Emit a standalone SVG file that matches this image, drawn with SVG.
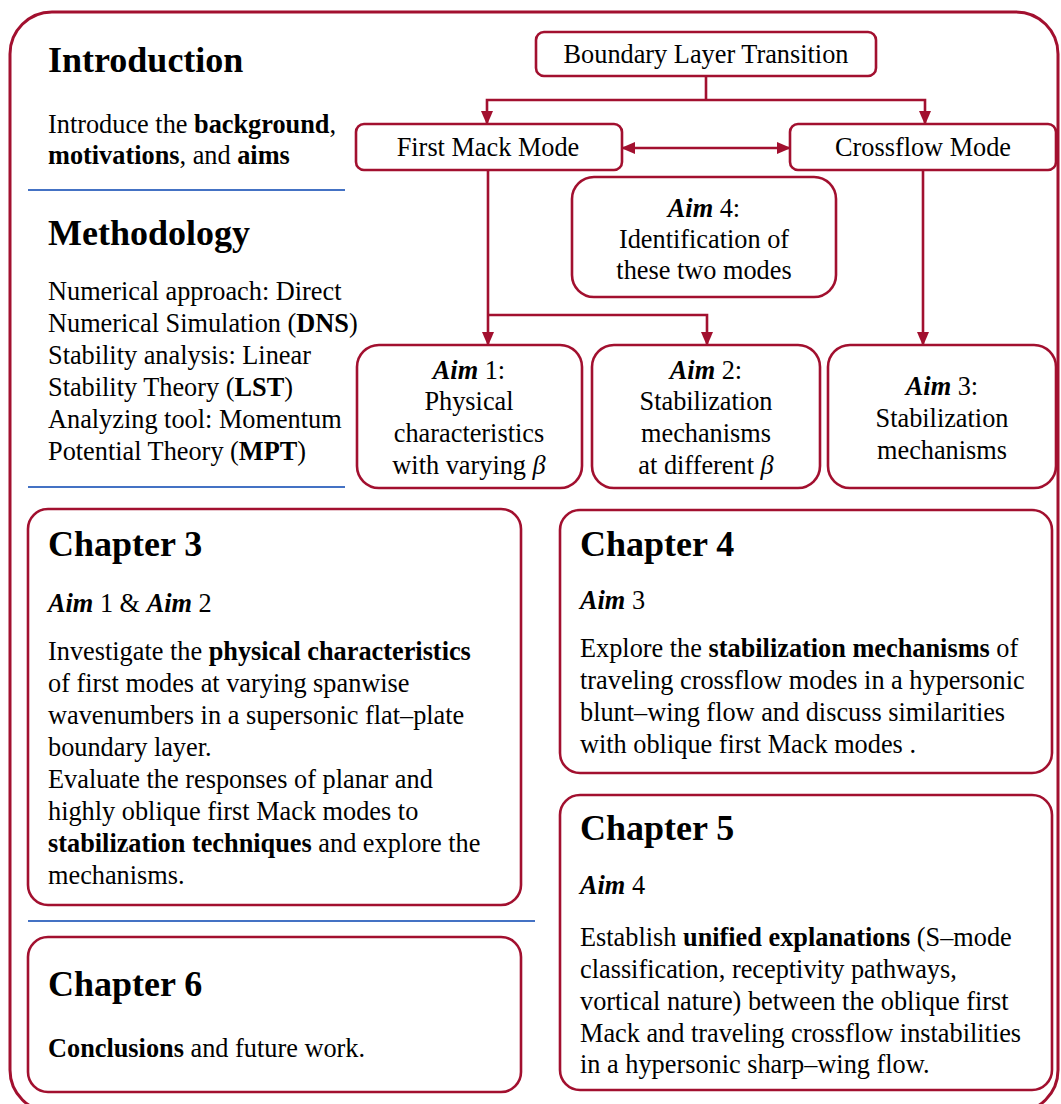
<svg xmlns="http://www.w3.org/2000/svg" width="1061" height="1104" viewBox="0 0 1061 1104">
<style>
.box{fill:#fff;stroke:#A2102F;stroke-width:2.6}
.frame{fill:none;stroke:#A2102F;stroke-width:3}
.conn{fill:none;stroke:#A2102F;stroke-width:2.6}
.sep{stroke:#4472C4;stroke-width:2}
text{font-family:"Liberation Serif","Times New Roman",serif;fill:#000}
.h{font-size:36px;font-weight:bold}
.t{font-size:26.3px}
.c{text-anchor:middle}
.b{font-weight:bold}
.i{font-style:italic}
.bi{font-weight:bold;font-style:italic}
</style>
<defs>
<marker id="arr" viewBox="0 0 14 12" refX="13" refY="6" markerWidth="14" markerHeight="12" markerUnits="userSpaceOnUse" orient="auto-start-reverse">
<path d="M0 0 L14 6 L0 12 z" fill="#A2102F"/>
</marker>
</defs>
<rect width="1061" height="1104" fill="#fff"/>
<rect class="frame" x="10" y="12" width="1048" height="1100" rx="42"/>

<g id="intro">
<text class="h" x="48" y="72">Introduction</text>
<text class="t" x="48" y="133">Introduce the <tspan class="b">background</tspan>,</text>
<text class="t" x="48" y="164"><tspan class="b">motivations</tspan>, and <tspan class="b">aims</tspan></text>
</g>
<line class="sep" x1="28" y1="190" x2="345" y2="190"/>
<g id="methodology">
<text class="h" x="48" y="245">Methodology</text>
<text class="t" x="48" y="300">Numerical approach: Direct</text>
<text class="t" x="48" y="332">Numerical Simulation (<tspan class="b">DNS</tspan>)</text>
<text class="t" x="48" y="364">Stability analysis: Linear</text>
<text class="t" x="48" y="396">Stability Theory (<tspan class="b">LST</tspan>)</text>
<text class="t" x="48" y="428">Analyzing tool: Momentum</text>
<text class="t" x="48" y="460">Potential Theory (<tspan class="b">MPT</tspan>)</text>
</g>
<line class="sep" x1="28" y1="487" x2="345" y2="487"/>

<g id="connectors">
<line class="conn" x1="706" y1="76" x2="706" y2="100"/>
<polyline class="conn" points="487,124 487,100 925,100 925,124" marker-start="url(#arr)" marker-end="url(#arr)"/>
<line class="conn" x1="622" y1="148" x2="790" y2="148" marker-start="url(#arr)" marker-end="url(#arr)"/>
<line class="conn" x1="488" y1="170" x2="488" y2="345" marker-end="url(#arr)"/>
<polyline class="conn" points="488,315 707,315 707,345" marker-end="url(#arr)"/>
<line class="conn" x1="923" y1="170" x2="923" y2="345" marker-end="url(#arr)"/>
</g>

<g id="blt">
<rect class="box" x="536" y="32" width="340" height="44" rx="8"/>
<text class="t c" x="706" y="63">Boundary Layer Transition</text>
</g>
<g id="first-mack">
<rect class="box" x="356" y="124" width="266" height="46" rx="8"/>
<text class="t c" x="488" y="156">First Mack Mode</text>
</g>
<g id="crossflow">
<rect class="box" x="790" y="124" width="266" height="46" rx="8"/>
<text class="t c" x="923" y="156">Crossflow Mode</text>
</g>
<g id="aim4">
<rect class="box" x="572" y="177" width="264" height="120" rx="22"/>
<text class="t c" x="704" y="217"><tspan class="bi">Aim</tspan> 4:</text>
<text class="t c" x="704" y="248">Identification of</text>
<text class="t c" x="704" y="279">these two modes</text>
</g>
<g id="aim1">
<rect class="box" x="357" y="345" width="225" height="143" rx="22"/>
<text class="t c" x="469" y="379"><tspan class="bi">Aim</tspan> 1:</text>
<text class="t c" x="469" y="410">Physical</text>
<text class="t c" x="469" y="442">characteristics</text>
<text class="t c" x="469" y="474">with varying <tspan class="i">β</tspan></text>
</g>
<g id="aim2">
<rect class="box" x="592" y="345" width="228" height="143" rx="22"/>
<text class="t c" x="706" y="379"><tspan class="bi">Aim</tspan> 2:</text>
<text class="t c" x="706" y="410">Stabilization</text>
<text class="t c" x="706" y="442">mechanisms</text>
<text class="t c" x="706" y="474">at different <tspan class="i">β</tspan></text>
</g>
<g id="aim3">
<rect class="box" x="828" y="345" width="228" height="143" rx="22"/>
<text class="t c" x="942" y="395"><tspan class="bi">Aim</tspan> 3:</text>
<text class="t c" x="942" y="427">Stabilization</text>
<text class="t c" x="942" y="459">mechanisms</text>
</g>

<g id="chapter3">
<rect class="box" x="28" y="509" width="493" height="396" rx="20"/>
<text class="h" x="48" y="556">Chapter 3</text>
<text class="t" x="48" y="612"><tspan class="bi">Aim</tspan> 1 &amp; <tspan class="bi">Aim</tspan> 2</text>
<text class="t" x="48" y="660">Investigate the <tspan class="b">physical characteristics</tspan></text>
<text class="t" x="48" y="692">of first modes at varying spanwise</text>
<text class="t" x="48" y="724">wavenumbers in a supersonic flat–plate</text>
<text class="t" x="48" y="756">boundary layer.</text>
<text class="t" x="48" y="788">Evaluate the responses of planar and</text>
<text class="t" x="48" y="820">highly oblique first Mack modes to</text>
<text class="t" x="48" y="852"><tspan class="b">stabilization techniques</tspan> and explore the</text>
<text class="t" x="48" y="884">mechanisms.</text>
</g>
<line class="sep" x1="28" y1="921" x2="535" y2="921"/>
<g id="chapter6">
<rect class="box" x="28" y="937" width="493" height="155" rx="20"/>
<text class="h" x="48" y="996">Chapter 6</text>
<text class="t" x="48" y="1057"><tspan class="b">Conclusions</tspan> and future work.</text>
</g>
<g id="chapter4">
<rect class="box" x="560" y="510" width="492" height="263" rx="20"/>
<text class="h" x="580" y="556">Chapter 4</text>
<text class="t" x="580" y="609"><tspan class="bi">Aim</tspan> 3</text>
<text class="t" x="580" y="657">Explore the <tspan class="b">stabilization mechanisms</tspan> of</text>
<text class="t" x="580" y="689">traveling crossflow modes in a hypersonic</text>
<text class="t" x="580" y="721">blunt–wing flow and discuss similarities</text>
<text class="t" x="580" y="753">with oblique first Mack modes .</text>
</g>
<g id="chapter5">
<rect class="box" x="560" y="795" width="492" height="295" rx="20"/>
<text class="h" x="580" y="840">Chapter 5</text>
<text class="t" x="580" y="894"><tspan class="bi">Aim</tspan> 4</text>
<text class="t" x="580" y="946">Establish <tspan class="b">unified explanations</tspan> (S–mode</text>
<text class="t" x="580" y="978">classification, receptivity pathways,</text>
<text class="t" x="580" y="1010">vortical nature) between the oblique first</text>
<text class="t" x="580" y="1042">Mack and traveling crossflow instabilities</text>
<text class="t" x="580" y="1073">in a hypersonic sharp–wing flow.</text>
</g>
</svg>
